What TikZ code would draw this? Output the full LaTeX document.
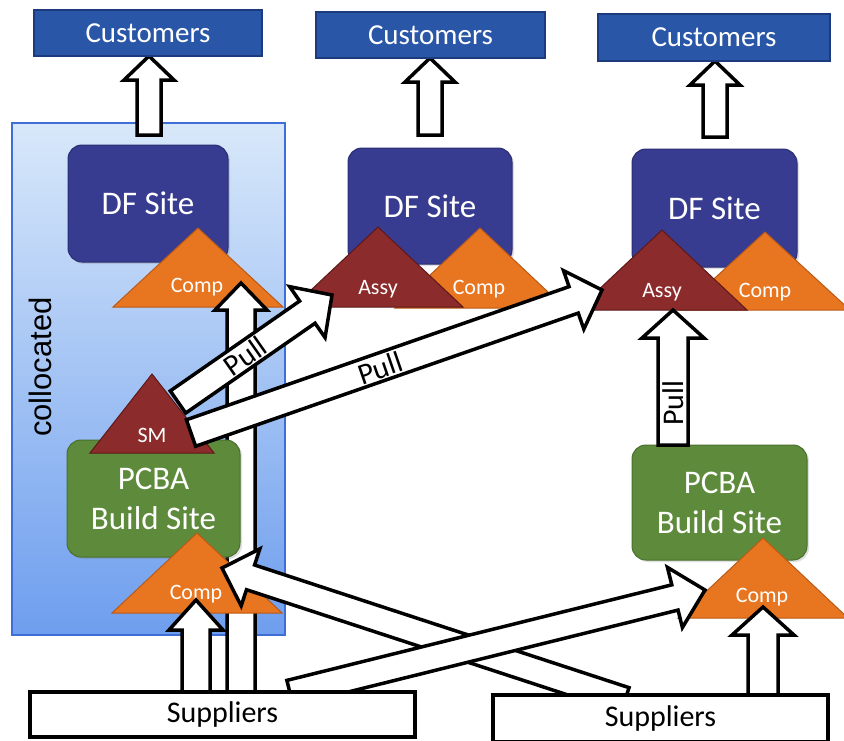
\documentclass[tikz,border=0pt]{standalone}
\usepackage{fontspec}
\setmainfont{Carlito}
\newfontfamily\arialfont{Liberation Sans}
\usetikzlibrary{calc,shadows}

\definecolor{custblue}{HTML}{2A56A8}
\definecolor{custedge}{HTML}{1B3B7E}
\definecolor{dfblue}{HTML}{383C91}
\definecolor{dfedge}{HTML}{2A2D72}
\definecolor{pcbagreen}{HTML}{5E8B3B}
\definecolor{pcbaedge}{HTML}{48702C}
\definecolor{comporange}{HTML}{E8751F}
\definecolor{compedge}{HTML}{B95A16}
\definecolor{assyred}{HTML}{8C2B2B}
\definecolor{assyedge}{HTML}{5E1818}
\definecolor{colltop}{HTML}{D8E8FA}
\definecolor{collbot}{HTML}{6E9EEE}
\definecolor{colledge}{HTML}{3F6FD6}

% white block arrow: tail, tip, shaft half width, head half width, head length
\newcommand\sitearrow[5]{%
  \coordinate (ba-h) at ($(#2)!#5!(#1)$);
  \draw[blockarr] ($(#1)!#3!90:(#2)$) -- ($(ba-h)!#3!90:(#2)$)
    -- ($(ba-h)!#4!90:(#2)$) -- (#2) -- ($(ba-h)!#4!-90:(#2)$)
    -- ($(ba-h)!#3!-90:(#2)$) -- ($(#1)!#3!-90:(#2)$) -- cycle;}

% stock triangle: apex x, apex y, half width, height, style
\newcommand\stocktri[5]{%
  \filldraw[#5] ({#1-#3},{#2+#4}) -- (#1,#2) -- ({#1+#3},{#2+#4}) -- cycle;}

\begin{document}
\begin{tikzpicture}[x=1pt,y=-1pt,
  custbox/.style={rectangle, fill=custblue, draw=custedge, line width=1.2pt,
    text=white, inner sep=0pt, font=\fontsize{29}{34}\selectfont},
  dfbox/.style={rectangle, rounded corners=14pt, fill=dfblue, draw=dfedge,
    line width=1pt, text=white, inner sep=0pt, font=\fontsize{33}{38}\selectfont,
    drop shadow={opacity=0.25, shadow xshift=2pt, shadow yshift=-2pt}},
  pcbabox/.style={rectangle, rounded corners=14pt, fill=pcbagreen, draw=pcbaedge,
    line width=1pt, text=white, inner sep=0pt, align=center,
    font=\fontsize{33}{40}\selectfont,
    drop shadow={opacity=0.25, shadow xshift=2pt, shadow yshift=-2pt}},
  supbox/.style={rectangle, fill=white, draw=black, line width=3.5pt,
    inner sep=0pt, font=\fontsize{30}{34}\selectfont},
  comptri/.style={fill=comporange, draw=compedge, line width=1pt},
  assytri/.style={fill=assyred, draw=assyedge, line width=1pt},
  trilabel/.style={text=white, inner sep=0pt, font=\fontsize{22}{26}\selectfont},
  pulllabel/.style={inner sep=0pt, font=\fontsize{30}{32}\selectfont},
  blockarr/.style={fill=white, draw=black, line width=3.5pt, line join=miter}]

\useasboundingbox (0,0) rectangle (844,740);
\fill[white] (0,0) rectangle (844,740);

% collocated region
\shadedraw[top color=colltop, bottom color=collbot, draw=colledge, line width=1.5pt]
  (12,123) rectangle (285,635);
\node[rotate=90, inner sep=0pt, font=\arialfont\fontsize{31}{34}\selectfont] (coll) at (40,367) {collocated};

% arrows up to the customers
\coordinate (c1tail) at (149,135); \coordinate (c1tip) at (149,56);
\coordinate (c2tail) at (430,135); \coordinate (c2tip) at (430,58);
\coordinate (c3tail) at (715,137); \coordinate (c3tip) at (715,61);
\sitearrow{c1tail}{c1tip}{12pt}{25pt}{24pt}
\sitearrow{c2tail}{c2tip}{12pt}{25pt}{24pt}
\sitearrow{c3tail}{c3tip}{12pt}{25pt}{24pt}

\node[custbox, minimum width=228pt, minimum height=46pt] (cust1) at (148,33) {Customers};
\node[custbox, minimum width=229pt, minimum height=46pt] (cust2) at (430.5,35) {Customers};
\node[custbox, minimum width=232pt, minimum height=47pt] (cust3) at (714,37.5) {Customers};

% DF sites
\node[dfbox, minimum width=160pt, minimum height=117pt] (df1) at (148,203.5) {DF Site};
\node[dfbox, minimum width=164pt, minimum height=116pt] (df2) at (430,206) {DF Site};
\node[dfbox, minimum width=165pt, minimum height=118pt] (df3) at (714.5,208) {DF Site};

% stocks at the DF sites
\stocktri{198}{228}{85}{79}{comptri}
\node[trilabel] (comp1) at (197,287) {Comp};
\stocktri{480}{228}{85}{80}{comptri}
\node[trilabel] (comp2) at (479,289) {Comp};
\stocktri{378}{227}{85}{80}{assytri}
\node[trilabel] (assy2) at (378,289) {Assy};
\stocktri{765}{232}{85}{78}{comptri}
\node[trilabel] (comp3) at (765,292) {Comp};
\stocktri{662}{230}{85}{80}{assytri}
\node[trilabel] (assy3) at (662,292) {Assy};

% long supply arrow to the collocated DF stock
\coordinate (btail) at (241,692); \coordinate (btip) at (241,283);
\sitearrow{btail}{btip}{14pt}{26pt}{27pt}

% PCBA build sites
\node[pcbabox, minimum width=173pt, minimum height=117pt] (pcba1) at (153.5,498.5) {PCBA\\Build Site};
\node[pcbabox, minimum width=175pt, minimum height=115pt] (pcba2) at (719.5,502.5) {PCBA\\Build Site};

% stocks at the PCBA sites
\stocktri{152}{374}{62}{79}{assytri}
\node[trilabel] (sm) at (152,435) {SM};
\stocktri{197}{533}{85}{80}{comptri}
\node[trilabel] (comp4) at (196,594) {Comp};
\stocktri{763}{538}{85}{80}{comptri}
\node[trilabel] (comp5) at (762,597) {Comp};

% vertical supply and pull arrows
\coordinate (atail) at (196,692); \coordinate (atip) at (196,600);
\sitearrow{atail}{atip}{14pt}{27pt}{30pt}
\coordinate (rtail) at (763,695); \coordinate (rtip) at (763,607);
\sitearrow{rtail}{rtip}{15pt}{31pt}{28pt}
\coordinate (ptail) at (673,445); \coordinate (ptip) at (673,310);
\sitearrow{ptail}{ptip}{15pt}{31pt}{28pt}
\node[pulllabel, rotate=90] (pullC) at (673,403) {Pull};

% pull arrows from the SM stock
\coordinate (u1tail) at (178,402); \coordinate (u1tip) at (332,295);
\sitearrow{u1tail}{u1tip}{13.5pt}{31pt}{30pt}
\node[pulllabel, rotate=35] (pullA) at (245,356) {Pull};
\coordinate (u2tail) at (191,433); \coordinate (u2tip) at (602,290);
\sitearrow{u2tail}{u2tip}{14pt}{31pt}{30pt}
\node[pulllabel, rotate=19] (pullB) at (380,368) {Pull};

% crossing supply arrows
\coordinate (xatail) at (625,700); \coordinate (xatip) at (222,568);
\sitearrow{xatail}{xatip}{13pt}{30pt}{30pt}
\coordinate (xbtail) at (290,693); \coordinate (xbtip) at (705,590);
\sitearrow{xbtail}{xbtip}{13pt}{31pt}{31pt}

% suppliers
\node[supbox, minimum width=385pt, minimum height=45pt] (sup1) at (222.5,714.5) {Suppliers};
\node[supbox, minimum width=335pt, minimum height=47pt] (sup2) at (660.5,718.5) {Suppliers};
\end{tikzpicture}
\end{document}
